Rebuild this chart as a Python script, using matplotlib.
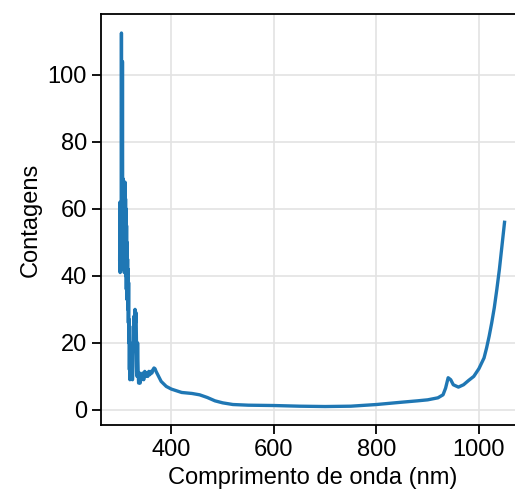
import numpy as np
import matplotlib
matplotlib.use("Agg")
import matplotlib.pyplot as plt

# -------------------------------
# DATA
# -------------------------------
wavelength = [
    299, 299.5, 300, 300.5, 301, 301.5, 302, 302.5, 303, 303.5,
    304, 304.5, 305, 305.5, 306, 306.5, 307, 307.5, 308, 308.5,
    309, 309.5, 310, 310.5, 311, 311.5, 312, 312.5, 313, 313.5,
    314, 314.5, 315, 315.5, 316, 316.5, 317, 317.5, 318, 318.5,
    319, 319.5, 320, 321, 322, 323, 324, 325, 326, 327,
    328, 329, 330, 331, 332, 333, 334, 335, 336, 337,
    338, 339, 340, 342, 344, 346, 348, 350, 352, 354,
    356, 358, 360, 362, 364, 366, 368, 370, 375, 380,
    390, 400, 420, 440, 455, 470, 485, 500, 520, 550, 600,
    650, 700, 750, 800, 850, 880, 900, 920, 930, 935,
    940, 945, 950, 960, 970, 980, 990, 1000, 1010, 1015, 1020,
    1025, 1030, 1035, 1040, 1045, 1050,
]
counts = [
    45, 62, 41, 58, 43, 60, 42, 112.5, 44, 100,
    50, 104, 48, 69, 42, 67, 45, 66, 41, 60,
    46, 68, 44, 63, 40, 60, 36, 55, 33, 50,
    34, 45, 30, 42, 26, 38, 20, 27, 12, 25,
    9, 20, 11, 15, 10, 16, 9, 13, 20, 28,
    22, 30, 26, 29, 18, 10, 20, 12, 8, 9,
    11, 8, 10, 9, 11, 9, 11.5, 10, 11, 10,
    11.5, 10.5, 11.5, 11, 12, 12.5, 12.3, 11.5, 10, 8.5,
    7, 6.2, 5.2, 4.9, 4.5, 3.7, 2.7, 2.1, 1.6, 1.4, 1.3,
    1.1, 1.0, 1.1, 1.6, 2.3, 2.7, 3.0, 3.6, 4.5, 6.5,
    9.6, 9.0, 7.5, 6.8, 7.5, 8.8, 10.0, 12.3, 15.5, 18.5, 22.0,
    26.0, 30.5, 36.0, 42.0, 49.0, 56.0,
]

# -------------------------------
# PLOT
# -------------------------------
plt.rcParams["font.family"] = ["Liberation Sans", "DejaVu Sans"]
plt.rcParams["font.size"] = 17

fig = plt.figure(figsize=(5.15, 4.95), dpi=100)
ax = fig.add_axes([0.196, 0.141, 0.821, 0.830])

ax.plot(wavelength, counts, color="#1f77b4", linewidth=2.4)

ax.set_xlim(262.5, 1087.5)
ax.set_xlabel("Comprimento de onda (nm)")
ax.set_ylabel("Contagens")
ax.set_xticks([400, 600, 800, 1000])
ax.set_yticks([0, 20, 40, 60, 80, 100])
ax.grid(True, color="#e3e3e3", linewidth=1.2)
ax.set_axisbelow(True)
ax.tick_params(direction="out", length=6.5, width=1.3)
for sp in ax.spines.values():
    sp.set_linewidth(1.3)

fig.savefig("out.png", dpi=100)
